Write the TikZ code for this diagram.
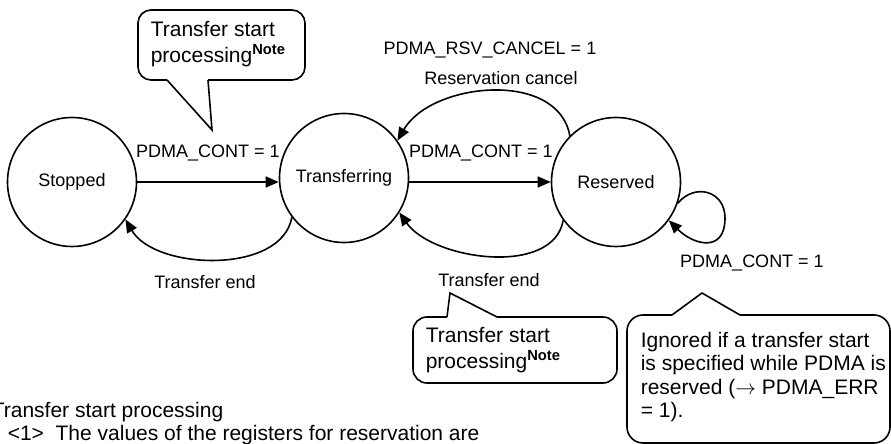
\documentclass[tikz,border=0pt]{standalone}
\usepackage{fontspec}
\setmainfont{Liberation Sans}
\usetikzlibrary{arrows.meta}
\begin{document}
\begin{tikzpicture}[x=1pt,y=1pt,line width=1.6pt,
  statenode/.style={circle,draw,minimum size=129pt,inner sep=0pt,font=\fontsize{18}{22}\selectfont},
  lbl/.style={inner sep=0pt,font=\fontsize{18}{22}\selectfont},
  note/.style={inner sep=0pt,align=left,anchor=west,font=\fontsize{21}{26}\selectfont},
  flow/.style={-{Triangle[length=13pt,width=11pt]}}]
\useasboundingbox (0,0) rectangle (891,444);

\node[statenode] (stop) at (72,262) {Stopped};
\node[statenode] (trans) at (344,266) {Transferring};
\node[statenode] (res) at (616,262) {Reserved};

\draw[flow] (stop.east) -- (stop.east -| trans.west);
\draw[flow] (trans.east |- res.west) -- (res.west);
\draw[flow] (trans.217) to[out=-100,in=-60,looseness=0.9] (stop.-35);
\draw[flow] (res.216) to[out=-100,in=-55,looseness=0.9] (trans.-32);
\draw[flow] (res.135) to[out=100,in=60] (trans.35);
\coordinate (loopR) at (725,226);
\draw[flow] (res.-19) to[out=50,in=90,looseness=1.4] (loopR) to[out=-90,in=-45,looseness=1.6] (res.-36);

\node[lbl] (contA) at (208,291) {PDMA\_CONT = 1};
\node[lbl] (contB) at (481,291) {PDMA\_CONT = 1};
\node[lbl] (cancelreg) at (490,394) {PDMA\_RSV\_CANCEL = 1};
\node[lbl] (cancel) at (501,366) {Reservation cancel};
\node[lbl] (endA) at (205,162) {Transfer end};
\node[lbl] (endB) at (489,164) {Transfer end};
\node[lbl] (contC) at (752,181) {PDMA\_CONT = 1};

% callouts
\draw[rounded corners=13pt] (167,364) -- (138,364) -- (138,434) -- (305,434) -- (305,364) -- (208,364);
\draw (208,364) -- (212,314) -- (167,364);
\node[note] (tipA) at (150,400) {Transfer start\\processing\textsuperscript{\bfseries Note}};

\draw[rounded corners=14pt] (447,127) -- (413,127) -- (413,61) -- (617,61) -- (617,127) -- (497,127);
\draw (497,127) -- (450,151) -- (447,127);
\node[note] (tipB) at (425,94) {Transfer start\\processing\textsuperscript{\bfseries Note}};

\draw[rounded corners=16pt] (672,129) -- (627,129) -- (627,1) -- (890,1) -- (890,129) -- (740,129);
\draw (740,129) -- (702,151) -- (672,129);
\node[note,font=\fontsize{21}{23.5}\selectfont] (tipC) at (640,67) {Ignored if a transfer start\\is specified while PDMA is\\reserved ($\rightarrow$ PDMA\_ERR\\= 1).};

% footnote
\node[note] (fnA) at (-9,32) {Transfer start processing};
\node[note] (fnB) at (7,9) {<1>\ \ The values of the registers for reservation are};
\end{tikzpicture}
\end{document}
